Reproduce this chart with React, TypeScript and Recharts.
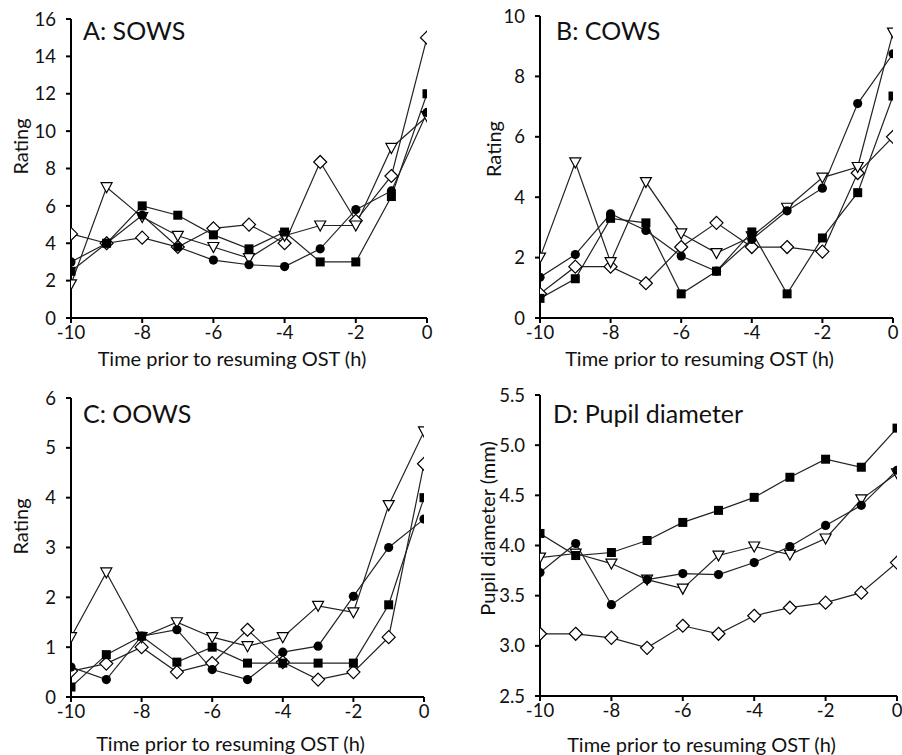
import React from 'react';
import { LineChart, Line, XAxis, YAxis } from 'recharts';

const hours = [-10, -9, -8, -7, -6, -5, -4, -3, -2, -1, 0];
const xTicks = [-10, -8, -6, -4, -2, 0];

const sowsSquare = [2.5, 4.0, 6.0, 5.5, 4.45, 3.7, 4.6, 3.0, 3.0, 6.5, 12.0];
const sowsCircle = [3.0, 4.0, 5.5, 3.8, 3.1, 2.85, 2.75, 3.7, 5.8, 6.8, 11.0];
const sowsTriangle = [1.8, 7.0, 5.4, 4.4, 3.8, 3.2, 4.4, 4.95, 4.95, 9.1, 10.8];
const sowsDiamond = [4.5, 4.0, 4.3, 3.8, 4.8, 5.0, 4.0, 8.35, 5.2, 7.6, 15.0];

const cowsSquare = [0.65, 1.3, 3.3, 3.15, 0.8, 1.55, 2.85, 0.8, 2.65, 4.15, 7.35];
const cowsCircle = [1.35, 2.1, 3.45, 2.9, 2.05, 1.55, 2.6, 3.55, 4.3, 7.1, 8.75];
const cowsTriangle = [2.0, 5.15, 1.85, 4.5, 2.8, 2.15, 2.7, 3.65, 4.65, 5.0, 9.45];
const cowsDiamond = [0.8, 1.7, 1.7, 1.15, 2.35, 3.15, 2.35, 2.35, 2.2, 4.8, 6.0];

const oowsSquare = [0.2, 0.85, 1.22, 0.7, 1.0, 0.68, 0.68, 0.68, 0.68, 1.85, 4.0];
const oowsCircle = [0.6, 0.35, 1.22, 1.35, 0.55, 0.35, 0.9, 1.02, 2.02, 3.0, 3.57];
const oowsTriangle = [1.2, 2.5, 1.2, 1.5, 1.2, 1.02, 1.2, 1.83, 1.7, 3.85, 5.33];
const oowsDiamond = [0.52, 0.67, 1.0, 0.5, 0.68, 1.35, 0.7, 0.35, 0.5, 1.2, 4.68];

const pupilSquare = [4.12, 3.9, 3.93, 4.05, 4.23, 4.35, 4.48, 4.68, 4.86, 4.78, 5.17];
const pupilCircle = [3.73, 4.02, 3.41, 3.66, 3.72, 3.71, 3.83, 3.99, 4.2, 4.4, 4.75];
const pupilTriangle = [3.88, 3.92, 3.82, 3.66, 3.57, 3.9, 3.99, 3.91, 4.07, 4.46, 4.72];
const pupilDiamond = [3.12, 3.12, 3.08, 2.98, 3.2, 3.12, 3.3, 3.38, 3.43, 3.53, 3.83];

const ratingTicksA = [0, 2, 4, 6, 8, 10, 12, 14, 16];
const ratingTicksB = [0, 2, 4, 6, 8, 10];
const ratingTicksC = [0, 1, 2, 3, 4, 5, 6];
const pupilTicks = [2.5, 3.0, 3.5, 4.0, 4.5, 5.0, 5.5];

const X_TITLE = 'Time prior to resuming OST (h)';

const FONT = 'Lato, "Open Sans", sans-serif';
const LINE = '#222';
const AXIS_TITLE_SIZE = 20;
const TICK_SIZE = 18.5;

function build(sq: number[], ci: number[], tr: number[], di: number[]) {
  return hours.map((h, i) => ({ h, sq: sq[i], ci: ci[i], tr: tr[i], di: di[i] }));
}

const SquareDot = (p: any) => {
  const { cx, cy, key } = p;
  if (cx == null || cy == null) return <g key={key} />;
  return <rect key={key} x={cx - 4.5} y={cy - 4.5} width={9} height={9} fill="#000" />;
};
const CircleDot = (p: any) => {
  const { cx, cy, key } = p;
  if (cx == null || cy == null) return <g key={key} />;
  return <circle key={key} cx={cx} cy={cy} r={4.6} fill="#000" />;
};
const TriangleDot = (p: any) => {
  const { cx, cy, key } = p;
  if (cx == null || cy == null) return <g key={key} />;
  return (
    <polygon
      key={key}
      points={`${cx - 5.5},${cy - 4.5} ${cx + 5.5},${cy - 4.5} ${cx},${cy + 5.5}`}
      fill="#fff"
      stroke="#000"
      strokeWidth={1.2}
    />
  );
};
const DiamondDot = (p: any) => {
  const { cx, cy, key } = p;
  if (cx == null || cy == null) return <g key={key} />;
  return (
    <polygon
      key={key}
      points={`${cx},${cy - 6.5} ${cx + 6.5},${cy} ${cx},${cy + 6.5} ${cx - 6.5},${cy}`}
      fill="#fff"
      stroke="#000"
      strokeWidth={1.2}
    />
  );
};

const XTick = (tp: any) => (
  <text
    x={tp.x}
    y={tp.y}
    dy="0.72em"
    textAnchor="middle"
    fontSize={TICK_SIZE}
    fontFamily={FONT}
    fill="#111"
  >
    {String(tp.payload.value)}
  </text>
);

type PanelProps = {
  left: number;
  top: number;
  width: number;
  height: number;
  mTop: number;
  mRight: number;
  yWidth: number;
  xHeight: number;
  data: any[];
  domain: [number, number];
  ticks: number[];
  decimals: number;
  yLabel: string;
  yLabelX: number;
  yLabelDy: number;
  xLabelBase: number;
  title: string;
  titleX: number;
  titleY: number;
};

function Panel(props: PanelProps) {
  const {
    left, top, width, height, mTop, mRight, yWidth, xHeight, data, domain, ticks,
    decimals, yLabel, yLabelX, yLabelDy, xLabelBase, title, titleX, titleY,
  } = props;
  const YTick = (tp: any) => (
    <text
      x={tp.x}
      y={tp.y}
      dy="0.36em"
      textAnchor="end"
      fontSize={TICK_SIZE}
      fontFamily={FONT}
      fill="#111"
    >
      {Number(tp.payload.value).toFixed(decimals)}
    </text>
  );
  const yLabelContent = (lp: any) => {
    const vb = lp.viewBox || {};
    const x = (vb.x || 0) + yLabelX;
    const y = (vb.y || 0) + (vb.height || 0) / 2 + yLabelDy;
    return (
      <text
        x={x}
        y={y}
        transform={`rotate(-90, ${x}, ${y})`}
        textAnchor="middle"
        dominantBaseline="central"
        fontSize={AXIS_TITLE_SIZE}
        fontFamily={FONT}
        fill="#111"
      >
        {yLabel}
      </text>
    );
  };
  const xLabelContent = (lp: any) => {
    const vb = lp.viewBox || {};
    const x = (vb.x || 0) + (vb.width || 0) / 2 - 17;
    const y = (vb.y || 0) + (vb.height || 0) - xLabelBase;
    return (
      <text x={x} y={y} textAnchor="middle" fontSize={AXIS_TITLE_SIZE} fontFamily={FONT} fill="#111">
        {X_TITLE}
      </text>
    );
  };
  return (
    <div style={{ position: 'absolute', left, top, width, height }}>
      <LineChart
        width={width}
        height={height}
        data={data}
        style={{ overflow: 'visible' }}
        margin={{ top: mTop, right: mRight, bottom: 0, left: 0 }}
      >
        <XAxis
          dataKey="h"
          type="number"
          domain={[-10, 0]}
          ticks={xTicks}
          allowDataOverflow
          height={xHeight}
          tickSize={5}
          tickMargin={3}
          tick={XTick}
          tickLine={{ stroke: '#000', strokeWidth: 2 }}
          axisLine={{ stroke: '#000', strokeWidth: 2 }}
          label={{ content: xLabelContent }}
        />
        <YAxis
          type="number"
          domain={domain}
          ticks={ticks}
          allowDataOverflow
          width={yWidth}
          tickSize={5}
          tickMargin={10}
          tick={YTick}
          tickLine={{ stroke: '#000', strokeWidth: 2 }}
          axisLine={{ stroke: '#000', strokeWidth: 2 }}
          label={{ content: yLabelContent }}
        />
        <Line dataKey="di" stroke={LINE} strokeWidth={1.2} dot={DiamondDot} isAnimationActive={false} />
        <Line dataKey="tr" stroke={LINE} strokeWidth={1.2} dot={TriangleDot} isAnimationActive={false} />
        <Line dataKey="ci" stroke={LINE} strokeWidth={1.2} dot={CircleDot} isAnimationActive={false} />
        <Line dataKey="sq" stroke={LINE} strokeWidth={1.2} dot={SquareDot} isAnimationActive={false} />
      </LineChart>
      <div
        style={{
          position: 'absolute',
          left: titleX,
          top: titleY - 14,
          fontFamily: FONT,
          fontSize: 25,
          lineHeight: 1,
          color: '#111',
          whiteSpace: 'nowrap',
        }}
      >
        {title}
      </div>
    </div>
  );
}

export default function App() {
  const dataA = build(sowsSquare, sowsCircle, sowsTriangle, sowsDiamond);
  const dataB = build(cowsSquare, cowsCircle, cowsTriangle, cowsDiamond);
  const dataC = build(oowsSquare, oowsCircle, oowsTriangle, oowsDiamond);
  const dataD = build(pupilSquare, pupilCircle, pupilTriangle, pupilDiamond);
  return (
    <div style={{ position: 'absolute', left: 0, top: 0, width: 902, height: 755, background: '#fff', overflow: 'hidden' }}>
      <Panel
        left={0} top={0} width={450} height={370} mTop={19} mRight={23} yWidth={71} xHeight={52}
        data={dataA} domain={[0, 16]} ticks={ratingTicksA} decimals={0}
        yLabel="Rating" yLabelX={20} yLabelDy={-22} xLabelBase={4}
        title="A: SOWS" titleX={83} titleY={32}
      />
      <Panel
        left={450} top={0} width={452} height={370} mTop={16} mRight={9} yWidth={90} xHeight={52}
        data={dataB} domain={[0, 10]} ticks={ratingTicksB} decimals={0}
        yLabel="Rating" yLabelX={43} yLabelDy={-18} xLabelBase={4}
        title="B: COWS" titleX={106} titleY={32}
      />
      <Panel
        left={0} top={370} width={450} height={385} mTop={28} mRight={26} yWidth={71} xHeight={58}
        data={dataC} domain={[0, 6]} ticks={ratingTicksC} decimals={0}
        yLabel="Rating" yLabelX={20} yLabelDy={-21} xLabelBase={4}
        title="C: OOWS" titleX={83} titleY={45}
      />
      <Panel
        left={450} top={370} width={452} height={385} mTop={25} mRight={5} yWidth={90} xHeight={59}
        data={dataD} domain={[2.5, 5.5]} ticks={pupilTicks} decimals={1}
        yLabel="Pupil diameter (mm)" yLabelX={37} yLabelDy={-17} xLabelBase={3}
        title="D: Pupil diameter" titleX={103} titleY={45}
      />
    </div>
  );
}
